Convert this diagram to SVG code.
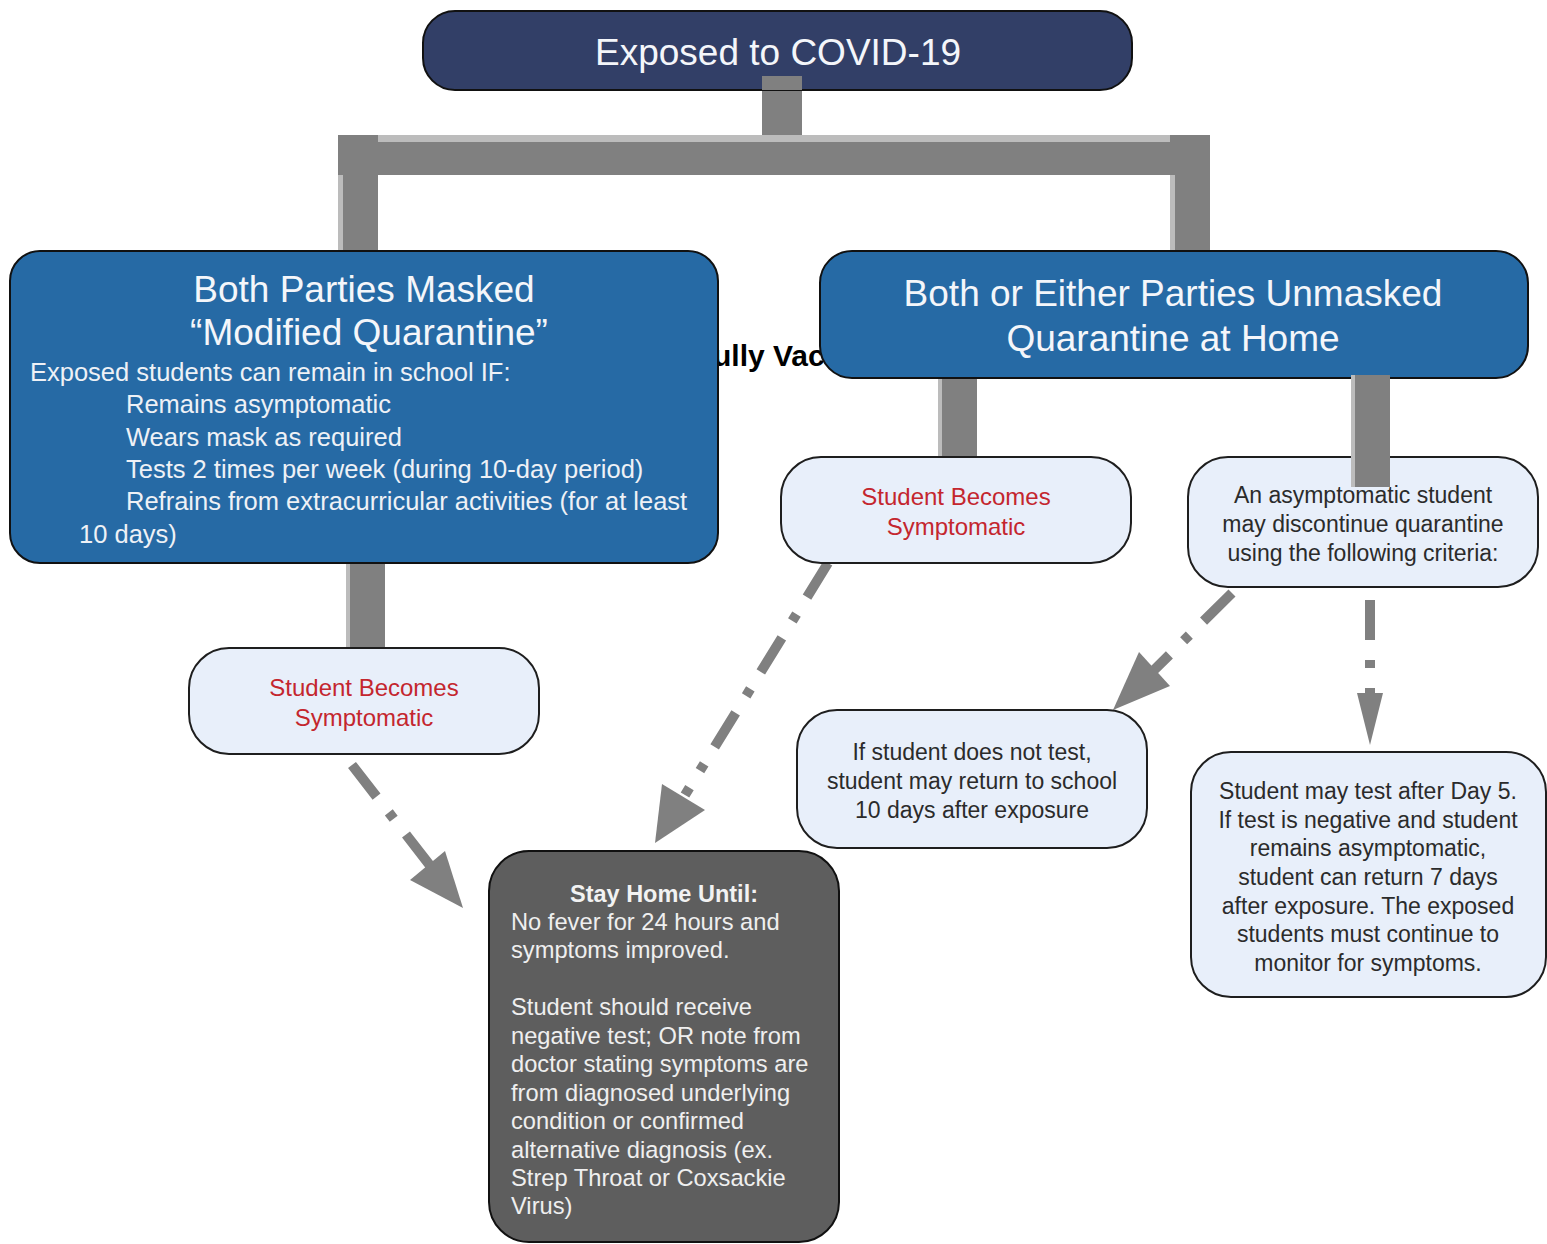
<svg xmlns="http://www.w3.org/2000/svg" width="1547" height="1244" viewBox="0 0 1547 1244">
<style>
text{font-family:"Liberation Sans",Arial,sans-serif}
.bar{fill:#808080}
.hl{fill:#bcbcbc}
.big{fill:#f4f6fa;font-size:37px;text-anchor:middle}
.sub{fill:#eef1f6;font-size:25.5px}
.light{fill:#e8effa;stroke:#1e1e1e;stroke-width:2}
.red{fill:#c4262e;font-size:24px;text-anchor:middle}
.dk{fill:#2b2b2b;font-size:23px;text-anchor:middle}
.gray{fill:#efefef;font-size:23.7px}
.arrow{fill:none;stroke:#808080;stroke-width:10;stroke-dasharray:40 20 8 20}
.head{fill:#808080}
</style>
<rect width="1547" height="1244" fill="#ffffff"/>
<text x="713" y="366" font-size="30" font-weight="bold" fill="#000">ully Vac</text>
<g id="connectors">
<rect class="bar" x="762" y="76" width="40" height="66"/>
<rect class="hl" x="338" y="135" width="872" height="7"/>
<rect class="bar" x="338" y="142" width="872" height="33"/>
<rect class="bar" x="338" y="135" width="40" height="120"/>
<rect class="hl" x="338" y="175" width="5" height="80"/>
<rect class="bar" x="1170" y="135" width="40" height="120"/>
<rect class="hl" x="1170" y="175" width="5" height="80"/>
<rect class="bar" x="346" y="560" width="39" height="90"/>
<rect class="hl" x="346" y="560" width="4" height="90"/>
<rect class="bar" x="938" y="375" width="39" height="85"/>
<rect class="hl" x="938" y="375" width="4" height="85"/>
<path class="arrow" d="M352,765 L432,868"/>
<polygon class="head" points="463,908 410,880 445,851"/>
<path class="arrow" d="M828,563 L685,795"/>
<polygon class="head" points="655,843 662,784 705,810"/>
<path class="arrow" d="M1232,593 L1148,676"/>
<polygon class="head" points="1113,710 1139,652 1170,686"/>
<path class="arrow" d="M1370,600 L1370,695"/>
<polygon class="head" points="1370,745 1357,693 1383,693"/>
</g>
<g id="exposed">
<rect x="423" y="11" width="709" height="79" rx="32" fill="#323f67" stroke="#111" stroke-width="2"/>
<text class="big" x="778" y="65" font-size="38">Exposed to COVID-19</text>
</g>
<rect class="bar" x="762" y="76" width="40" height="14"/>
<g id="masked">
<rect x="10" y="251" width="708" height="312" rx="30" fill="#266aa5" stroke="#111" stroke-width="2"/>
<text class="big" x="364" y="302" font-size="38">Both Parties Masked</text>
<text class="big" x="369" y="345" font-size="38">“Modified Quarantine”</text>
<text class="sub" x="30" y="381">Exposed students can remain in school IF:</text>
<text class="sub" x="126" y="413">Remains asymptomatic</text>
<text class="sub" x="126" y="446">Wears mask as required</text>
<text class="sub" x="126" y="478">Tests 2 times per week (during 10-day period)</text>
<text class="sub" x="126" y="510">Refrains from extracurricular activities (for at least</text>
<text class="sub" x="79" y="543">10 days)</text>
</g>
<g id="unmasked">
<rect x="820" y="251" width="708" height="127" rx="32" fill="#266aa5" stroke="#111" stroke-width="2"/>
<text class="big" x="1173" y="306" font-size="38">Both or Either Parties Unmasked</text>
<text class="big" x="1173" y="351" font-size="38">Quarantine at Home</text>
</g>
<g id="symptomatic-right">
<rect class="light" x="781" y="457" width="350" height="106" rx="40"/>
<text class="red" x="956" y="505">Student Becomes</text>
<text class="red" x="956" y="535">Symptomatic</text>
</g>
<g id="asymptomatic">
<rect class="light" x="1188" y="457" width="350" height="130" rx="40"/>
<text class="dk" x="1363" y="503">An asymptomatic student</text>
<text class="dk" x="1363" y="532">may discontinue quarantine</text>
<text class="dk" x="1363" y="561">using the following criteria:</text>
</g>
<g id="connector-overlap">
<rect class="bar" x="1351" y="375" width="39" height="112"/>
<rect class="hl" x="1351" y="375" width="4" height="112"/>
</g>
<g id="symptomatic-left">
<rect class="light" x="189" y="648" width="350" height="106" rx="40"/>
<text class="red" x="364" y="696">Student Becomes</text>
<text class="red" x="364" y="726">Symptomatic</text>
</g>
<g id="no-test">
<rect class="light" x="797" y="710" width="350" height="138" rx="40"/>
<text class="dk" x="972" y="760">If student does not test,</text>
<text class="dk" x="972" y="789">student may return to school</text>
<text class="dk" x="972" y="818">10 days after exposure</text>
</g>
<g id="test-day5">
<rect class="light" x="1191" y="752" width="355" height="245" rx="40"/>
<text class="dk" x="1368" y="799">Student may test after Day 5.</text>
<text class="dk" x="1368" y="828">If test is negative and student</text>
<text class="dk" x="1368" y="856">remains asymptomatic,</text>
<text class="dk" x="1368" y="885">student can return 7 days</text>
<text class="dk" x="1368" y="914">after exposure. The exposed</text>
<text class="dk" x="1368" y="942">students must continue to</text>
<text class="dk" x="1368" y="971">monitor for symptoms.</text>
</g>
<g id="stay-home">
<rect x="489" y="851" width="350" height="391" rx="40" fill="#5e5e5e" stroke="#111" stroke-width="2"/>
<text x="664" y="902" font-size="23.5" font-weight="bold" fill="#f2f2f2" text-anchor="middle">Stay Home Until:</text>
<text class="gray" x="511" y="930">No fever for 24 hours and</text>
<text class="gray" x="511" y="958">symptoms improved.</text>
<text class="gray" x="511" y="1015">Student should receive</text>
<text class="gray" x="511" y="1044">negative test; OR note from</text>
<text class="gray" x="511" y="1072">doctor stating symptoms are</text>
<text class="gray" x="511" y="1101">from diagnosed underlying</text>
<text class="gray" x="511" y="1129">condition or confirmed</text>
<text class="gray" x="511" y="1158">alternative diagnosis (ex.</text>
<text class="gray" x="511" y="1186">Strep Throat or Coxsackie</text>
<text class="gray" x="511" y="1214">Virus)</text>
</g>
</svg>
